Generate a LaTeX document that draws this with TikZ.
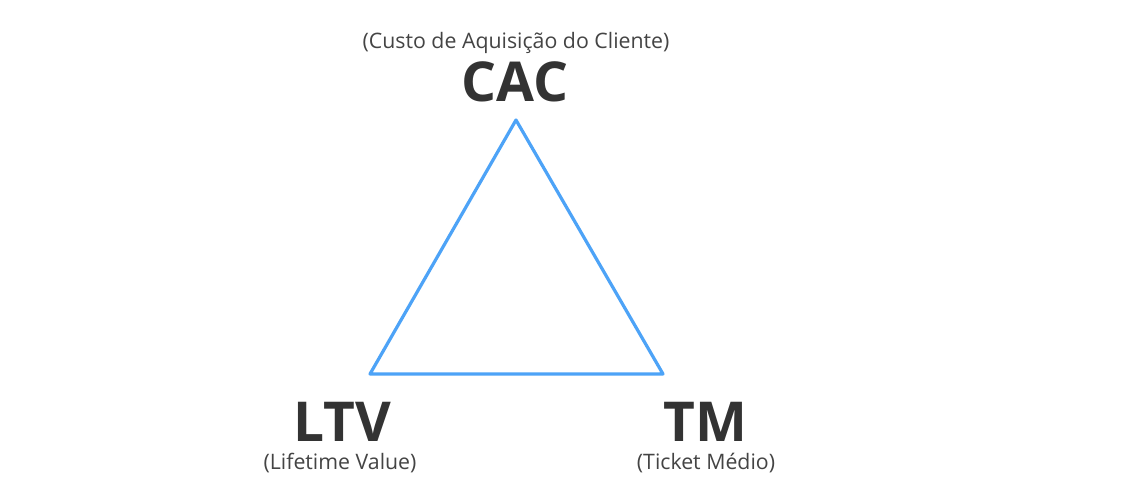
\documentclass[tikz,border=0pt]{standalone}
\usepackage{fontspec}
\setmainfont{Open Sans}
\definecolor{tri}{HTML}{4DA3F7}
\definecolor{txt}{HTML}{333333}
\definecolor{sub}{HTML}{444444}
\begin{document}
\begin{tikzpicture}[x=1pt,y=-1pt,
  big/.style={font=\fontsize{55}{55}\selectfont\bfseries, text=txt, inner sep=0pt},
  small/.style={font=\fontsize{21.3}{21.3}\selectfont, text=sub, inner sep=0pt}]
\useasboundingbox[fill=white] (0,0) rectangle (1147,483);
\coordinate (top) at (516,120);
\coordinate (bl) at (370,374);
\coordinate (br) at (663,374);
\draw[tri, line width=3.2pt, line join=round] (top) -- (bl) -- (br) -- cycle;
\node[big] (cac) at (515,82) {CAC};
\node[small] (cacs) at (516,43) {(Custo de Aquisição do Cliente)};
\node[big] (ltv) at (342,422) {LTV};
\node[small] (ltvs) at (340,463) {(Lifetime Value)};
\node[big] (tm) at (705,422) {TM};
\node[small] (tms) at (706,463) {(Ticket Médio)};
\end{tikzpicture}
\end{document}
